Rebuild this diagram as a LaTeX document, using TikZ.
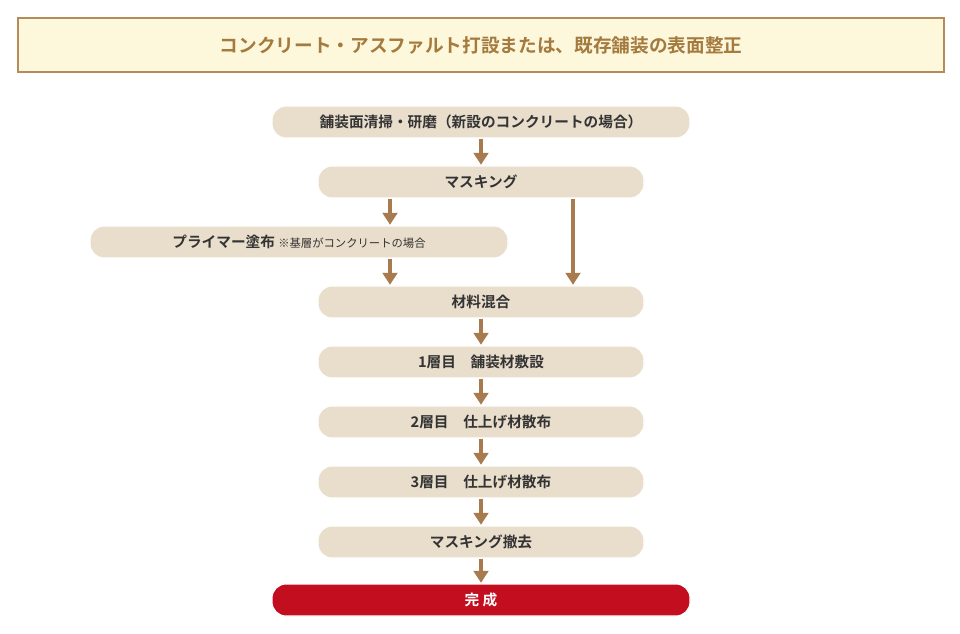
\documentclass[tikz,border=0pt]{standalone}
\usepackage{fontspec}
\newfontfamily\jp{Noto Sans CJK JP}
\newfontfamily\jpb{Noto Sans CJK JP Bold}
\usetikzlibrary{arrows.meta}
\definecolor{tbg}{HTML}{FDF8DC}
\definecolor{tbr}{HTML}{B48C5C}
\definecolor{ttx}{HTML}{A47A3E}
\definecolor{pill}{HTML}{E9DDCC}
\definecolor{arr}{HTML}{A87B4F}
\definecolor{red}{HTML}{C20E1F}
\definecolor{txt}{HTML}{333333}
\tikzset{
 pillbox/.style={rounded corners=10.5pt,fill=pill,draw=white,line width=0.8pt,minimum height=24pt,inner sep=0pt,text=txt,font=\jpb\fontsize{11}{13}\selectfont},
 arrw/.style={draw=arr,line width=3.6pt,-{Triangle[length=9pt,width=11pt]},shorten >=0.5pt}
}
\begin{document}
\begin{tikzpicture}[x=0.75pt,y=-0.75pt]
\useasboundingbox (0,0) rectangle (960,634);
\node[draw=tbr,fill=tbg,line width=1pt,minimum width=694.5pt,minimum height=40.5pt,text=ttx,font=\jpb\fontsize{14}{16}\selectfont] (title) at (481,45) {コンクリート・アスファルト打設または、既存舗装の表面整正};
\node[pillbox,minimum width=313.5pt] (b1) at (481,122) {舗装面清掃・研磨（新設のコンクリートの場合）};
\node[pillbox,minimum width=244.5pt] (mask) at (481,182) {マスキング};
\node[pillbox,minimum width=313.5pt] (primer) at (299,242) {プライマー塗布 {\jp\fontsize{8.5}{10}\selectfont ※基層がコンクリートの場合}};
\node[pillbox,minimum width=244.5pt] (mix) at (481,302) {材料混合};
\node[pillbox,minimum width=244.5pt] (l1) at (481,362) {1層目　舗装材敷設};
\node[pillbox,minimum width=244.5pt] (l2) at (481,422) {2層目　仕上げ材散布};
\node[pillbox,minimum width=244.5pt] (l3) at (481,482) {3層目　仕上げ材散布};
\node[pillbox,minimum width=244.5pt] (rm) at (481,542) {マスキング撤去};
\node[pillbox,minimum width=313.5pt,fill=red,text=white] (done) at (481,600) {完 成};
\coordinate (L) at (390,0);
\coordinate (R) at (573,0);
\draw[arrw] (b1.south) -- (mask.north);
\draw[arrw] (mask.south -| L) -- (primer.north -| L);
\draw[arrw] (primer.south -| L) -- (mix.north -| L);
\draw[arrw] (mask.south -| R) -- (mix.north -| R);
\draw[arrw] (mix.south) -- (l1.north);
\draw[arrw] (l1.south) -- (l2.north);
\draw[arrw] (l2.south) -- (l3.north);
\draw[arrw] (l3.south) -- (rm.north);
\draw[arrw] (rm.south) -- (done.north);
\end{tikzpicture}
\end{document}
